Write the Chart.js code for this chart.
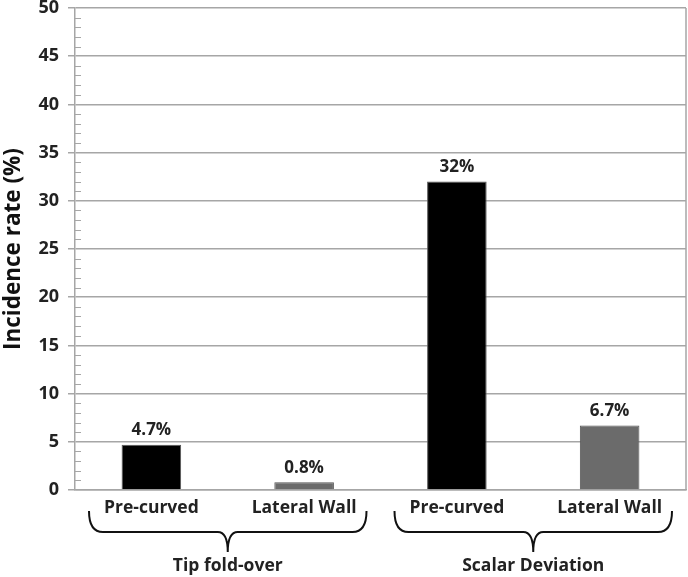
<!DOCTYPE html>
<html>
<head>
<meta charset="utf-8">
<script src="https://cdn.jsdelivr.net/npm/chart.js@4"></script>
<style>
  html, body { margin: 0; padding: 0; background: #fff; }
  #wrap { width: 688px; height: 577px; }
</style>
</head>
<body>
<div id="wrap"><canvas id="myChart"></canvas></div>
<script>
const categories = ['Pre-curved', 'Lateral Wall', 'Pre-curved', 'Lateral Wall']
const groups = ['Tip fold-over', 'Scalar Deviation']
const rates = [4.7, 0.8, 32, 6.7]
const rateLabels = ['4.7%', '0.8%', '32%', '6.7%']
const barColors = ['#000000', '#6b6b6b', '#000000', '#6b6b6b']

const FONT = '"Open Sans", Lato, sans-serif'
const GRID = '#a6a6a6'

// labels above bars, minor ticks, right border, braces + group names
const extras = {
    id: 'extras',
    afterDraw(chart) {
        const c = chart.ctx
        const area = chart.chartArea
        const x = chart.scales.x
        const y = chart.scales.y

        c.save()
        c.strokeStyle = GRID
        c.lineWidth = 1.5
        // right border
        c.beginPath()
        c.moveTo(area.right, area.top)
        c.lineTo(area.right, area.bottom)
        c.stroke()
        // minor ticks
        c.lineWidth = 1
        for (let v = 0; v <= 50; v++) {
            if (v % 5 === 0) continue
            const py = Math.round(y.getPixelForValue(v)) + 0.5
            c.beginPath()
            c.moveTo(area.left, py)
            c.lineTo(area.left + 6, py)
            c.stroke()
        }

        // value labels
        const meta = chart.getDatasetMeta(0)
        c.fillStyle = '#222'
        c.font = 'bold 17px ' + FONT
        c.textAlign = 'center'
        c.textBaseline = 'bottom'
        meta.data.forEach((bar, i) => {
            c.fillText(rateLabels[i], bar.x, bar.y - 6)
        })

        // braces
        c.strokeStyle = '#111'
        c.lineWidth = 2
        const half = (x.getPixelForValue(1) - x.getPixelForValue(0)) / 2
        const top = area.bottom + 21
        const mid = area.bottom + 42
        const tip = area.bottom + 62
        groups.forEach((g, k) => {
            const l = x.getPixelForValue(k * 2) - half + 14
            const r = x.getPixelForValue(k * 2 + 1) + half - 14
            const m = (l + r) / 2
            c.beginPath()
            c.moveTo(l, top)
            c.quadraticCurveTo(l, mid, l + 14, mid)
            c.lineTo(m - 10, mid)
            c.quadraticCurveTo(m, mid, m, tip)
            c.quadraticCurveTo(m, mid, m + 10, mid)
            c.lineTo(r - 14, mid)
            c.quadraticCurveTo(r, mid, r, top)
            c.stroke()

            c.fillStyle = '#222'
            c.font = 'bold 17.5px ' + FONT
            c.textBaseline = 'middle'
            c.fillText(g, m, area.bottom + 76)
        })
        c.restore()
    }
}

const ctx = document.getElementById('myChart').getContext('2d')

const myChart = new Chart(ctx, {
    type: 'bar',
    data: {
        labels: categories,
        datasets: [{
            label: 'Incidence rate',
            data: rates,
            backgroundColor: barColors,
            borderColor: '#555',
            borderWidth: 1,
            barPercentage: 0.39,
            categoryPercentage: 1
        }]
    },
    options: {
        responsive: true,
        maintainAspectRatio: false,
        animation: false,
        layout: {
            padding: { top: 0, right: 2, bottom: 0, left: 0 }
        },
        plugins: {
            legend: { display: false },
            tooltip: { enabled: false }
        },
        scales: {
            x: {
                grid: { display: false, drawTicks: false },
                border: { display: true, color: GRID, width: 1.5 },
                ticks: {
                    color: '#222',
                    padding: 8,
                    font: { family: FONT, size: 17.5, weight: 'bold' }
                },
                afterFit(scale) { scale.height = 87 }
            },
            y: {
                min: 0,
                max: 50,
                ticks: {
                    stepSize: 5,
                    color: '#222',
                    padding: 9,
                    font: { family: FONT, size: 18, weight: 'bold' }
                },
                grid: { color: GRID, lineWidth: 1.5, tickLength: 7 },
                border: { display: true, color: GRID, width: 1.5 },
                title: {
                    display: true,
                    text: 'Incidence rate (%)',
                    color: '#111',
                    padding: 0,
                    font: { family: FONT, size: 22.5, weight: 'bold' }
                },
                afterFit(scale) {
                    scale.width = 75
                    scale.paddingTop = 8
                }
            }
        }
    },
    plugins: [extras]
})
</script>
</body>
</html>
